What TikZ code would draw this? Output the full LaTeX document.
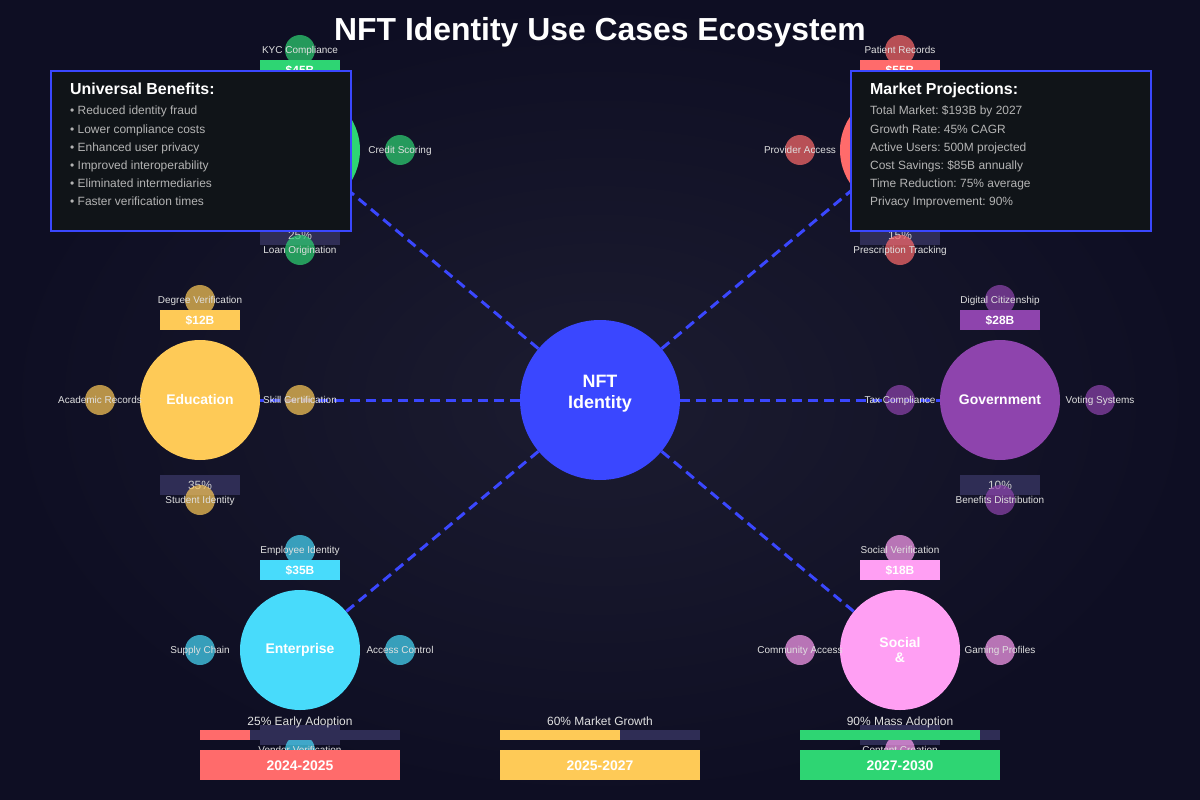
\documentclass[tikz,border=0pt]{standalone}
\usepackage{fontspec}
\setmainfont{Liberation Sans}
\frenchspacing
\definecolor{bgouter}{HTML}{0E0E23}
\definecolor{bginner}{HTML}{1C1C30}
\definecolor{hubblue}{HTML}{3A47FF}
\definecolor{fingreen}{HTML}{2ED573}
\definecolor{carered}{HTML}{FF6B6B}
\definecolor{edugold}{HTML}{FECA57}
\definecolor{govpurple}{HTML}{8E44AD}
\definecolor{entcyan}{HTML}{48DBFB}
\definecolor{socpink}{HTML}{FF9FF3}
\definecolor{trackgrey}{HTML}{2F2D55}
\definecolor{panelfill}{HTML}{101418}
\definecolor{itemgrey}{HTML}{B4B4B4}

\begin{document}
\begin{tikzpicture}[x=1bp, y=-1bp,
    sector/.style={circle, minimum size=120bp, inner sep=0pt, text=white,
                   font=\fontsize{14}{15}\selectfont\bfseries, align=center},
    sub/.style={circle, minimum size=30bp, inner sep=0pt, fill opacity=0.7},
    sublbl/.style={text=white!88!black, text opacity=1, inner sep=0pt,
                   font=\fontsize{10}{12}\selectfont, text height=7bp, text depth=0bp},
    valbar/.style={minimum width=80bp, minimum height=20bp, inner sep=0pt,
                   text=white, font=\fontsize{12}{14}\selectfont\bfseries,
                   text height=8.6bp, text depth=0bp},
    pctbar/.style={minimum width=80bp, minimum height=20bp, inner sep=0pt,
                   fill=trackgrey, text=white!80!black, font=\fontsize{12}{14}\selectfont,
                   text height=8.6bp, text depth=0bp},
    link/.style={hubblue, line width=3bp, dash pattern=on 10bp off 6bp},
    panel/.style={draw=hubblue, line width=2bp, fill=panelfill, anchor=north west,
                  minimum width=300bp, minimum height=160bp, inner sep=0pt},
    panelhead/.style={anchor=base west, inner sep=0pt, text=white,
                      font=\fontsize{16}{18}\selectfont\bfseries},
    panelitem/.style={anchor=base west, inner sep=0pt, text=itemgrey,
                      font=\fontsize{12}{14}\selectfont},
    phaselbl/.style={anchor=base, inner sep=0pt, text=white!88!black,
                     font=\fontsize{12}{14}\selectfont},
    phasetrack/.style={anchor=west, minimum width=200bp, minimum height=10bp,
                       inner sep=0pt, fill=trackgrey},
    phasefill/.style={anchor=west, minimum height=10bp, inner sep=0pt},
    phasebar/.style={minimum width=200bp, minimum height=30bp, inner sep=0pt,
                     text=white, font=\fontsize{14}{16}\selectfont\bfseries,
                     text height=10bp, text depth=0bp}]
    \useasboundingbox (0,0) rectangle (1200,800);
    % --- fondo con un leve brillo en el centro
    \shade[inner color=bginner, outer color=bgouter] (0,0) rectangle (1200,800);
    \node[anchor=base, inner sep=0pt, text=white, font=\fontsize{32}{36}\selectfont\bfseries]
         (title) at (600,41) {NFT Identity Use Cases Ecosystem};
    % --- nucleo y sectores
    \node[circle, minimum size=160bp, inner sep=0pt, fill=hubblue,
          label={[text=white, align=center, yshift=6bp,
                  font=\fontsize{18}{21}\selectfont\bfseries]center:NFT\\Identity}]
         (hub) at (600,400) {};
    \node[sector, fill=fingreen]  (fin)    at (300,150) {};
    \node[sector, fill=carered]   (care)   at (900,150) {};
    \node[sector, fill=edugold]   (edu)    at (200,400) {Education};
    \node[sector, fill=govpurple] (gov)    at (1000,400) {Government};
    \node[sector, fill=entcyan]   (ent)    at (300,650) {Enterprise};
    \node[sector, fill=socpink]   (social) at (900,650) {Social\\\&};
    % --- enlaces discontinuos desde el nucleo
    \draw[link] (hub) -- (fin);
    \draw[link] (hub) -- (care);
    \draw[link] (hub) -- (edu);
    \draw[link] (hub) -- (gov);
    \draw[link] (hub) -- (ent);
    \draw[link] (hub) -- (social);
    % --- cuota de adopcion bajo cada sector
    \node[pctbar] (fin-pct)  at (300,235) {25\%};
    \node[pctbar] (care-pct) at (900,235) {15\%};
    \node[pctbar] (edu-pct)  at (200,485) {35\%};
    \node[pctbar] (gov-pct)  at (1000,485) {10\%};
    \node[pctbar] (ent-pct)  at (300,735) {};
    \node[pctbar] (social-pct) at (900,735) {};
    % --- casos de uso alrededor de cada sector
    \node[sub, fill=fingreen, label={[sublbl]center:KYC Compliance}]   (fin-t) at (300,50) {};
    \node[sub, fill=fingreen, label={[sublbl]center:Credit Scoring}]   (fin-r) at (400,150) {};
    \node[sub, fill=fingreen, label={[sublbl]center:Loan Origination}] (fin-b) at (300,250) {};
    \node[sub, fill=carered, label={[sublbl]center:Patient Records}]       (care-t) at (900,50) {};
    \node[sub, fill=carered, label={[sublbl]center:Provider Access}]       (care-l) at (800,150) {};
    \node[sub, fill=carered, label={[sublbl]center:Prescription Tracking}] (care-b) at (900,250) {};
    \node[sub, fill=edugold, label={[sublbl]center:Degree Verification}] (edu-t) at (200,300) {};
    \node[sub, fill=edugold, label={[sublbl]center:Academic Records}]    (edu-l) at (100,400) {};
    \node[sub, fill=edugold, label={[sublbl]center:Skill Certification}] (edu-r) at (300,400) {};
    \node[sub, fill=edugold, label={[sublbl]center:Student Identity}]    (edu-b) at (200,500) {};
    \node[sub, fill=govpurple, label={[sublbl]center:Digital Citizenship}]   (gov-t) at (1000,300) {};
    \node[sub, fill=govpurple, label={[sublbl]center:Tax Compliance}]        (gov-l) at (900,400) {};
    \node[sub, fill=govpurple, label={[sublbl]center:Voting Systems}]        (gov-r) at (1100,400) {};
    \node[sub, fill=govpurple, label={[sublbl]center:Benefits Distribution}] (gov-b) at (1000,500) {};
    \node[sub, fill=entcyan, label={[sublbl]center:Employee Identity}]   (ent-t) at (300,550) {};
    \node[sub, fill=entcyan, label={[sublbl]center:Supply Chain}]        (ent-l) at (200,650) {};
    \node[sub, fill=entcyan, label={[sublbl]center:Access Control}]      (ent-r) at (400,650) {};
    \node[sub, fill=entcyan, label={[sublbl]center:Vendor Verification}] (ent-b) at (300,750) {};
    \node[sub, fill=socpink, label={[sublbl]center:Social Verification}] (social-t) at (900,550) {};
    \node[sub, fill=socpink, label={[sublbl]center:Community Access}]    (social-l) at (800,650) {};
    \node[sub, fill=socpink, label={[sublbl]center:Gaming Profiles}]     (social-r) at (1000,650) {};
    \node[sub, fill=socpink, label={[sublbl]center:Content Creation}]    (social-b) at (900,750) {};
    % --- tamano de mercado encima de cada sector
    \node[valbar, fill=fingreen]  (fin-val)    at (300,70)  {\$45B};
    \node[valbar, fill=carered]   (care-val)   at (900,70)  {\$55B};
    \node[valbar, fill=edugold]   (edu-val)    at (200,320) {\$12B};
    \node[valbar, fill=govpurple] (gov-val)    at (1000,320) {\$28B};
    \node[valbar, fill=entcyan]   (ent-val)    at (300,570) {\$35B};
    \node[valbar, fill=socpink]   (social-val) at (900,570) {\$18B};
    % --- paneles de resumen
    \node[panel] (benefits) at (50,70) {};
    \node[panelhead] (benefits-head) at (70,95) {Universal Benefits:};
    \node[panelitem] (benefits-1) at (70,115) {• Reduced identity fraud};
    \node[panelitem] (benefits-2) at (70,133) {• Lower compliance costs};
    \node[panelitem] (benefits-3) at (70,151) {• Enhanced user privacy};
    \node[panelitem] (benefits-4) at (70,169) {• Improved interoperability};
    \node[panelitem] (benefits-5) at (70,187) {• Eliminated intermediaries};
    \node[panelitem] (benefits-6) at (70,205) {• Faster verification times};
    \node[panel] (market) at (850,70) {};
    \node[panelhead] (market-head) at (870,95) {Market Projections:};
    \node[panelitem] (market-1) at (870,115) {Total Market: \$193B by 2027};
    \node[panelitem] (market-2) at (870,133) {Growth Rate: 45\% CAGR};
    \node[panelitem] (market-3) at (870,151) {Active Users: 500M projected};
    \node[panelitem] (market-4) at (870,169) {Cost Savings: \$85B annually};
    \node[panelitem] (market-5) at (870,187) {Time Reduction: 75\% average};
    \node[panelitem] (market-6) at (870,205) {Privacy Improvement: 90\%};
    % --- linea temporal de adopcion
    \node[phaselbl] (early-lbl) at (300,725) {25\% Early Adoption};
    \node[phasetrack] (early-track) at (200,735) {};
    \node[phasefill, minimum width=50bp, fill=carered] (early-fill) at (200,735) {};
    \node[phasebar, fill=carered] (early) at (300,765) {2024-2025};
    \node[phaselbl] (growth-lbl) at (600,725) {60\% Market Growth};
    \node[phasetrack] (growth-track) at (500,735) {};
    \node[phasefill, minimum width=120bp, fill=edugold] (growth-fill) at (500,735) {};
    \node[phasebar, fill=edugold] (growth) at (600,765) {2025-2027};
    \node[phaselbl] (mass-lbl) at (900,725) {90\% Mass Adoption};
    \node[phasetrack] (mass-track) at (800,735) {};
    \node[phasefill, minimum width=180bp, fill=fingreen] (mass-fill) at (800,735) {};
    \node[phasebar, fill=fingreen] (mass) at (900,765) {2027-2030};
\end{tikzpicture}
\end{document}
